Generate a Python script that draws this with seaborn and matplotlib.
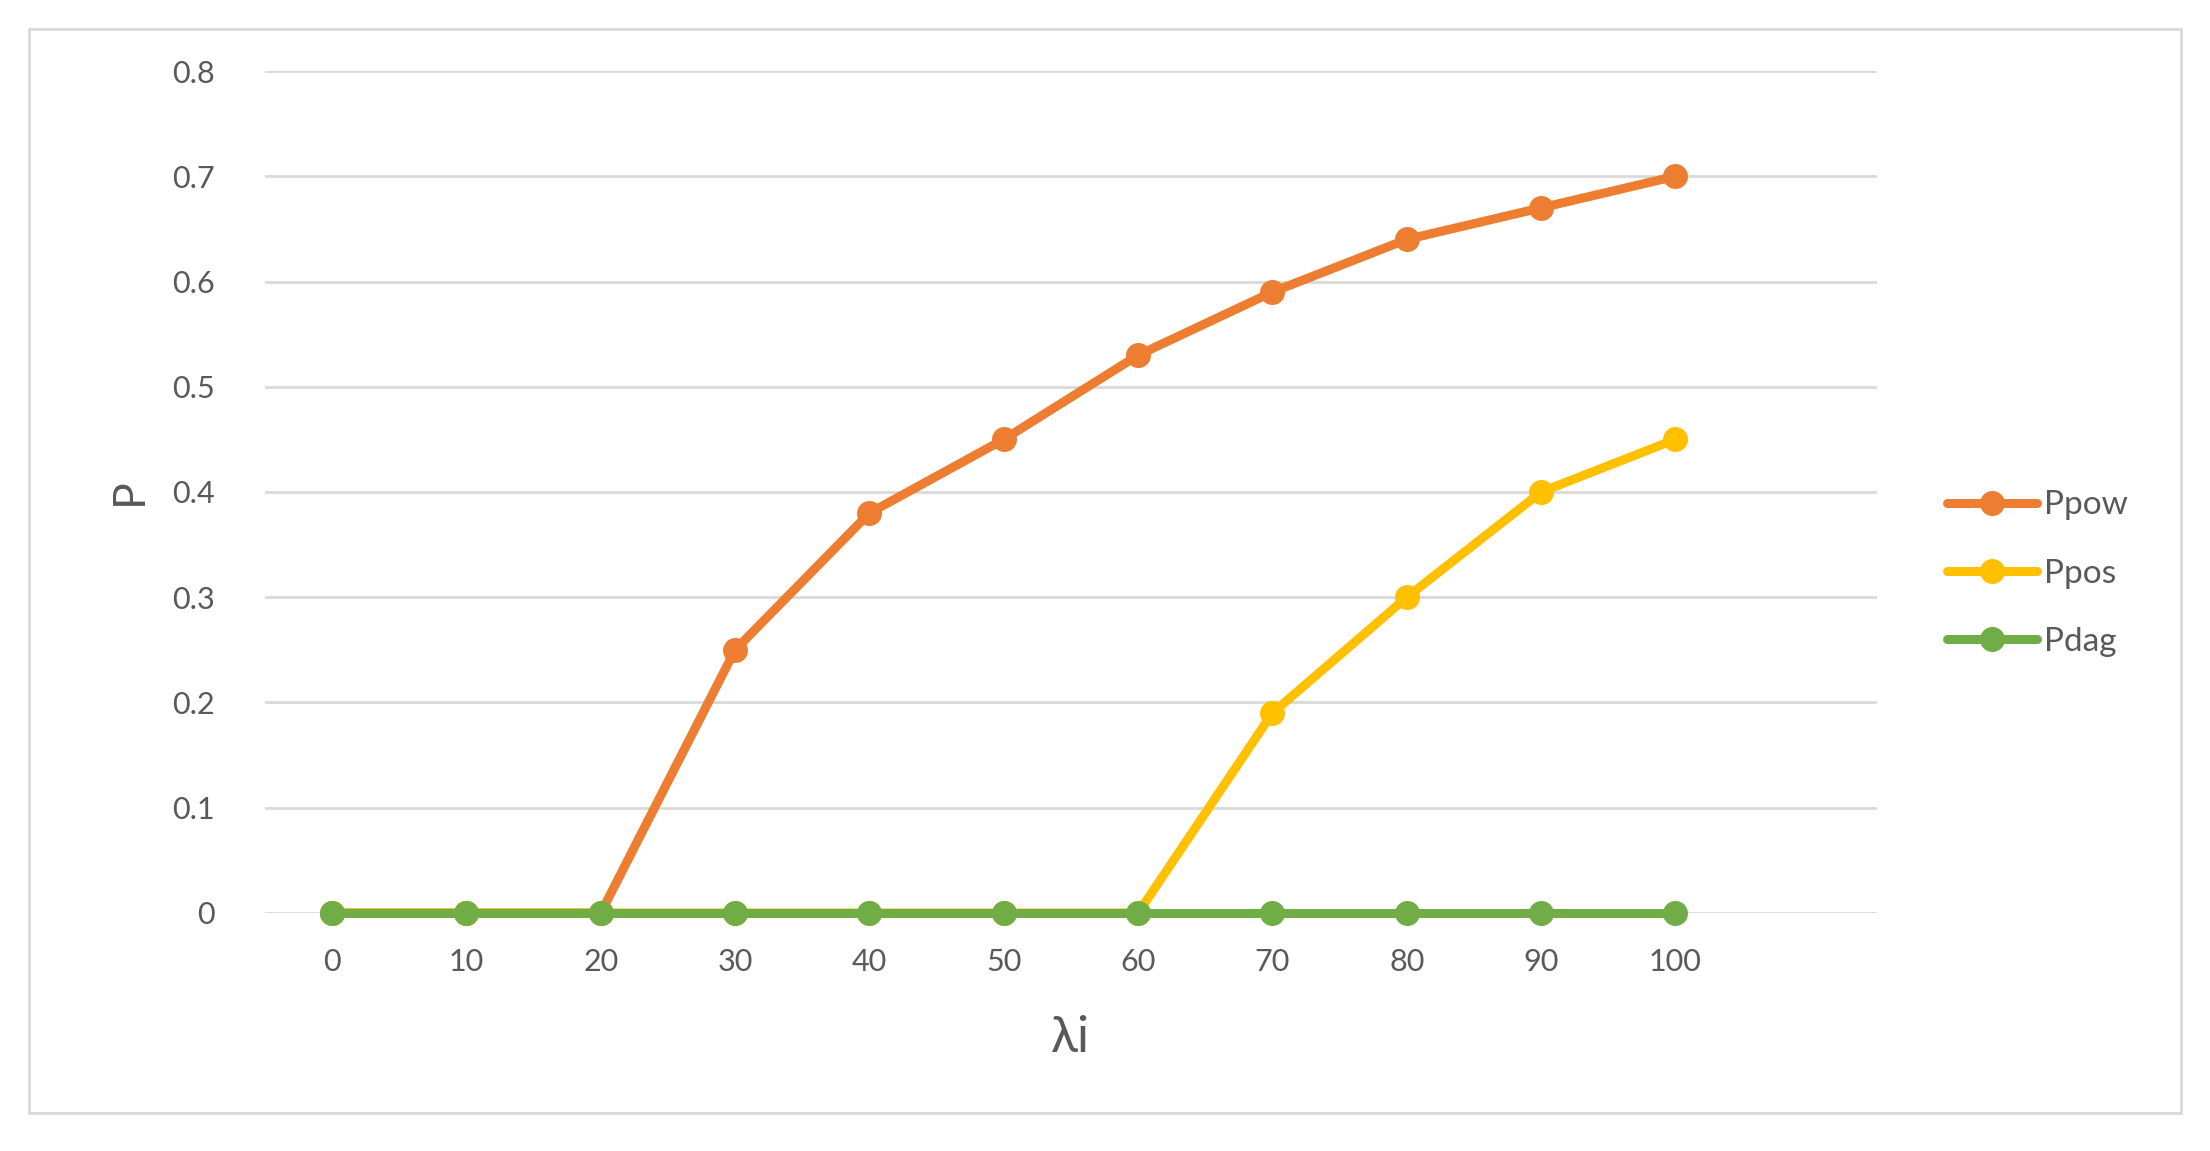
import pandas as pd
import seaborn as sns
import matplotlib.pyplot as plt
from matplotlib.patches import Rectangle

# Data
lam = [0, 10, 20, 30, 40, 50, 60, 70, 80, 90, 100]
p_pow = [0, 0, 0, 0.25, 0.38, 0.45, 0.53, 0.59, 0.64, 0.67, 0.70]
p_pos = [0, 0, 0, 0, 0, 0, 0, 0.19, 0.30, 0.40, 0.45]
p_dag = [0, 0, 0, 0, 0, 0, 0, 0, 0, 0, 0]
series_names = ["Ppow", "Ppos", "Pdag"]
colors = ["#ED7D31", "#FFC000", "#70AD47"]
y_ticks = [0, 0.1, 0.2, 0.3, 0.4, 0.5, 0.6, 0.7, 0.8]

df = pd.DataFrame({
    "lam": lam * 3,
    "P": p_pow + p_pos + p_dag,
    "series": [s for s in series_names for _ in lam],
})

sns.set_theme(style="white")
plt.rcParams["font.family"] = ["Lato", "DejaVu Sans"]
text_col = "#595959"
grid_col = "#D9D9D9"

fig = plt.figure(figsize=(22.1, 11.51), dpi=100)
ax = fig.add_axes([0.1199, 0.2068, 0.8493 - 0.1199, 0.9383 - 0.2068])

sns.lineplot(
    data=df, x="lam", y="P", hue="series", hue_order=series_names,
    palette=colors, marker="o", ax=ax, legend=True,
)
# thicker Excel-like lines and markers, not clipped at the zero line
for ln in ax.lines:
    ln.set_linewidth(6.5)
    ln.set_markersize(18)
    ln.set_markeredgewidth(0)
    ln.set_clip_on(False)

ax.set_xlim(-5, 115)
ax.set_ylim(0, 0.8)
ax.set_xticks(lam)
ax.set_xticklabels([str(v) for v in lam], fontsize=22, color=text_col)
ax.set_yticks(y_ticks)
ax.set_yticklabels(["0" if v == 0 else f"{v:.1f}" for v in y_ticks], fontsize=22, color=text_col)
ax.tick_params(axis="both", length=0)
ax.tick_params(axis="x", pad=25)
ax.tick_params(axis="y", pad=36)
ax.yaxis.grid(True, color=grid_col, linewidth=2)
ax.set_axisbelow(True)
for sp in ax.spines.values():
    sp.set_visible(False)

ax.set_xlabel("λi", fontsize=36, color=text_col, labelpad=28)
ax.set_ylabel("P", fontsize=32, color=text_col, labelpad=16)

handles, labels = ax.get_legend_handles_labels()
for h in handles:
    h.set_linewidth(6.5)
    h.set_markersize(18)
    h.set_markeredgewidth(0)
leg = ax.legend(
    handles, labels,
    loc="center left", bbox_to_anchor=(1.025, 0.403), frameon=False,
    fontsize=24, handlelength=2.7, handletextpad=0.2, labelspacing=1.15,
    labelcolor=text_col,
)

# Outer chart frame
fig.patches.append(Rectangle((29 / 2210, 1 - 1113 / 1151), (2181 - 29) / 2210, (1113 - 29) / 1151,
                             transform=fig.transFigure, fill=False, edgecolor=grid_col, linewidth=2))

fig.savefig("out.png", dpi=100, facecolor="white")
